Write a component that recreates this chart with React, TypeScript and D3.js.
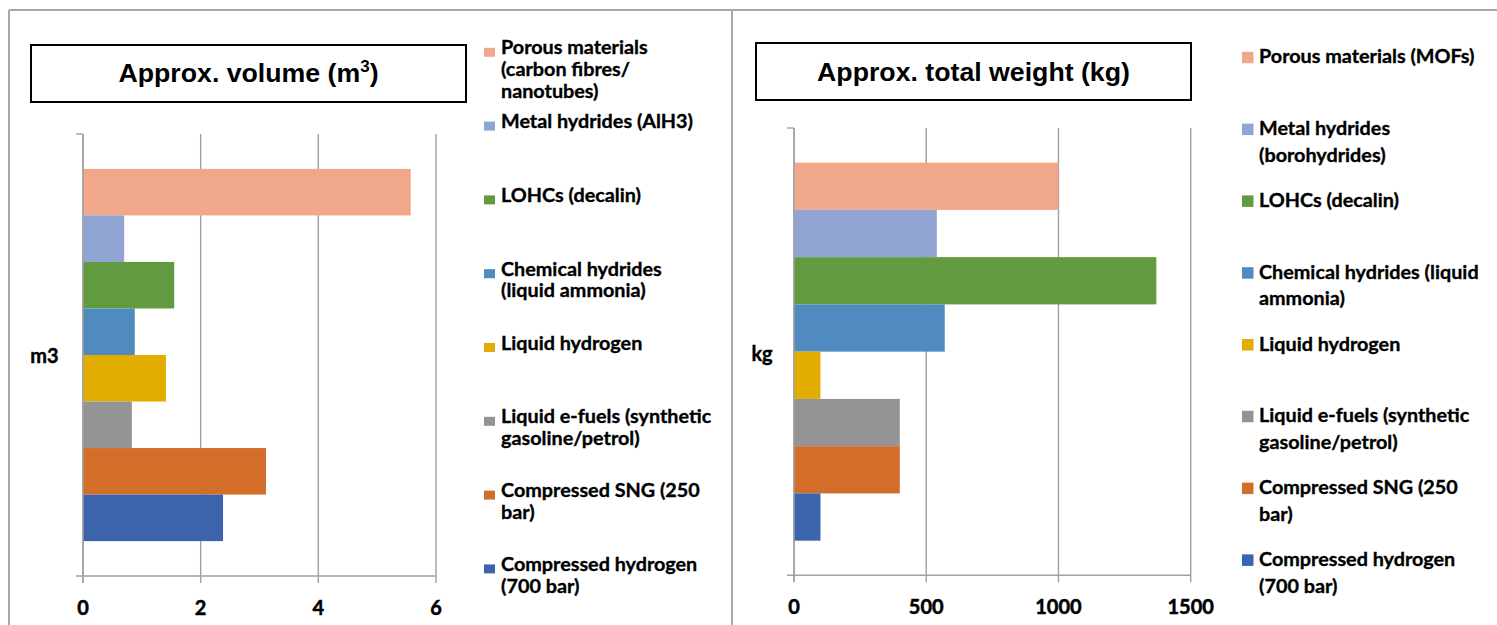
import React from "react";
import * as d3 from "d3";

// ---- data ----
const seriesKeys = ["porous", "metal", "lohc", "chemical", "lh2", "efuel", "sng", "ch2"];
const seriesColors = ["#F1A88A", "#91A5D5", "#629A3F", "#4F8BBE", "#E2AC00", "#949494", "#D36E2A", "#3C64AD"];
const volumeValues = [5.57, 0.7, 1.55, 0.88, 1.41, 0.83, 3.11, 2.38];
const weightValues = [1000, 540, 1370, 570, 100, 400, 400, 100];
const volumeTicks = [0, 2, 4, 6];
const weightTicks = [0, 500, 1000, 1500];
const volumeLegend = [
  ["Porous materials", "(carbon fibres/", "nanotubes)"],
  ["Metal hydrides (AlH3)"],
  ["LOHCs (decalin)"],
  ["Chemical hydrides", "(liquid ammonia)"],
  ["Liquid hydrogen"],
  ["Liquid e-fuels (synthetic", "gasoline/petrol)"],
  ["Compressed SNG (250", "bar)"],
  ["Compressed hydrogen", "(700 bar)"],
];
const weightLegend = [
  ["Porous materials (MOFs)"],
  ["Metal hydrides", "(borohydrides)"],
  ["LOHCs (decalin)"],
  ["Chemical hydrides (liquid", "ammonia)"],
  ["Liquid hydrogen"],
  ["Liquid e-fuels (synthetic", "gasoline/petrol)"],
  ["Compressed SNG (250", "bar)"],
  ["Compressed hydrogen", "(700 bar)"],
];

const LEG_FONT = "Lato, 'Open Sans', sans-serif";
const TITLE_FONT = "'Liberation Sans', Arial, sans-serif";

type PanelProps = {
  values: number[];
  ticks: number[];
  xRange: [number, number];
  yRange: [number, number];
  padOuter: number;
  axisLabel: string;
  axisLabelX: number;
  axisLabelY: number;
  title: React.ReactNode;
  titleBox: { x: number; y: number; w: number; h: number; baseline: number };
  legend: string[][];
  legX: number;
  legY0: number;
  legPitch: number;
  legLine: number;
  swW: number;
  swH: number;
  swOff: number;
  tickBaseline: number;
};

function Panel(p: PanelProps) {
  const x = d3.scaleLinear().domain([p.ticks[0], p.ticks[p.ticks.length - 1]]).range(p.xRange);
  const y = d3.scaleBand<string>().domain(seriesKeys).range(p.yRange).paddingInner(0).paddingOuter(p.padOuter);
  const [top, bottom] = p.yRange;
  const x0 = x(0);
  const grid = "#a0a0a0";
  return (
    <g>
      {/* title box */}
      <rect x={p.titleBox.x} y={p.titleBox.y} width={p.titleBox.w} height={p.titleBox.h} fill="#fff" stroke="#000" strokeWidth={2} />
      <text x={p.titleBox.x + p.titleBox.w / 2} y={p.titleBox.baseline} textAnchor="middle" fontFamily={TITLE_FONT} fontWeight="bold" fontSize={26.7} fill="#000">
        {p.title}
      </text>
      {/* gridlines */}
      {p.ticks.map((t) => (
        <line key={"g" + t} x1={x(t)} x2={x(t)} y1={top} y2={bottom + 7} stroke={grid} strokeWidth={1.4} />
      ))}
      {/* bars */}
      {seriesKeys.map((k, i) => (
        <rect key={k} x={x0} y={y(k)!} width={x(p.values[i]) - x0} height={y.bandwidth()} fill={seriesColors[i]} />
      ))}
      {/* axes */}
      <line x1={x0 - 7} x2={x(p.ticks[p.ticks.length - 1])} y1={bottom} y2={bottom} stroke={grid} strokeWidth={1.4} />
      <line x1={x0 - 7} x2={x0} y1={top} y2={top} stroke={grid} strokeWidth={1.4} />
      <line x1={x0} x2={x0} y1={top} y2={bottom + 7} stroke={grid} strokeWidth={1.4} />
      {p.ticks.map((t) => (
        <text key={"t" + t} x={x(t)} y={p.tickBaseline} textAnchor="middle" fontFamily={LEG_FONT} fontWeight="bold" fontSize={20} fill="#000" stroke="#000" strokeWidth={0.5}>
          {t}
        </text>
      ))}
      <text x={p.axisLabelX} y={p.axisLabelY} textAnchor="middle" fontFamily={LEG_FONT} fontWeight="bold" fontSize={20} fill="#000" stroke="#000" strokeWidth={0.4}>
        {p.axisLabel}
      </text>
      {/* legend */}
      {p.legend.map((lines, i) => {
        const by = p.legY0 + i * p.legPitch;
        return (
          <g key={"l" + i}>
            <rect x={p.legX - 17} y={by - p.swH + p.swOff} width={p.swW} height={p.swH} fill={seriesColors[i]} />
            {lines.map((ln, j) => (
              <text key={j} x={p.legX} y={by + j * p.legLine} fontFamily={LEG_FONT} fontWeight="bold" fontSize={19.8} fill="#000" stroke="#000" strokeWidth={0.35}>
                {ln}
              </text>
            ))}
          </g>
        );
      })}
    </g>
  );
}

export default function App() {
  return (
    <svg width={1497} height={625} style={{ position: "absolute", left: 0, top: 0, background: "#fff" }}>
      <rect x={0} y={0} width={1497} height={625} fill="#fff" />
      {/* panel borders */}
      <line x1={9} x2={1497} y1={10} y2={10} stroke="#a8a8a8" strokeWidth={2} />
      <line x1={9} x2={9} y1={10} y2={625} stroke="#a8a8a8" strokeWidth={2} />
      <line x1={732} x2={732} y1={10} y2={625} stroke="#a8a8a8" strokeWidth={2} />
      <Panel
        values={volumeValues}
        ticks={volumeTicks}
        xRange={[83, 436]}
        yRange={[134, 576]}
        padOuter={0.75}
        axisLabel="m3"
        axisLabelX={44.5}
        axisLabelY={362.5}
        title={<>Approx. volume (m<tspan fontSize={17} dy={-10}>3</tspan><tspan dy={10}>)</tspan></>}
        titleBox={{ x: 31, y: 45, w: 435, h: 57, baseline: 82 }}
        legend={volumeLegend}
        legX={501}
        legY0={54.3}
        legPitch={73.8}
        legLine={21.7}
        swW={11}
        swH={9}
        swOff={2.5}
        tickBaseline={615}
      />
      <Panel
        values={weightValues}
        ticks={weightTicks}
        xRange={[794, 1190.7]}
        yRange={[128, 575.3]}
        padOuter={0.733}
        axisLabel="kg"
        axisLabelX={762}
        axisLabelY={361}
        title={<>Approx. total weight (kg)</>}
        titleBox={{ x: 756, y: 43, w: 435, h: 57, baseline: 80.7 }}
        legend={weightLegend}
        legX={1259}
        legY0={63.3}
        legPitch={71.8}
        legLine={26.7}
        swW={11.5}
        swH={11.5}
        swOff={0}
        tickBaseline={614}
      />
    </svg>
  );
}
